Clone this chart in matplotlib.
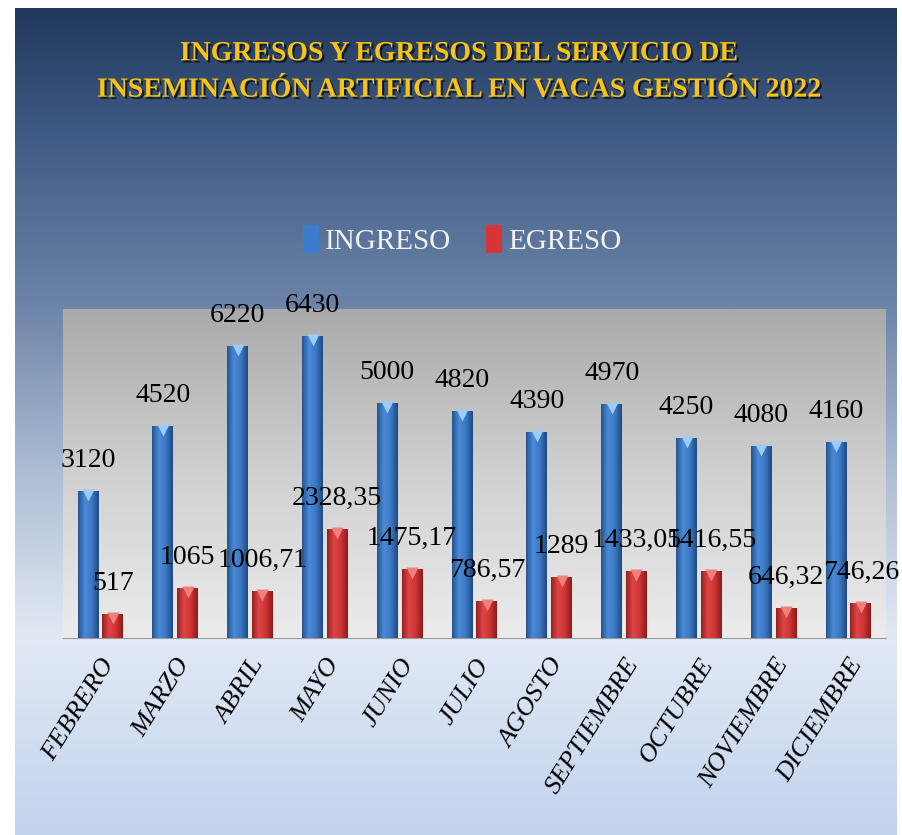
import numpy as np
import matplotlib.pyplot as plt
import matplotlib.patheffects as pe
from matplotlib.colors import LinearSegmentedColormap
from matplotlib.transforms import offset_copy

# Datos
meses = ['FEBRERO', 'MARZO', 'ABRIL', 'MAYO', 'JUNIO', 'JULIO', 'AGOSTO',
         'SEPTIEMBRE', 'OCTUBRE', 'NOVIEMBRE', 'DICIEMBRE']
ingreso = [3120, 4520, 6220, 6430, 5000, 4820, 4390, 4970, 4250, 4080, 4160]
egreso = [517, 1065, 1006.71, 2328.35, 1475.17, 786.57, 1289, 1433.05, 1416.55, 646.32, 746.26]

titulo = 'INGRESOS Y EGRESOS DEL SERVICIO DE\nINSEMINACIÓN ARTIFICIAL EN VACAS GESTIÓN 2022'

W, H = 903, 835
fig = plt.figure(figsize=(W / 100, H / 100), dpi=100, facecolor='white')
serif = ['Liberation Serif', 'DejaVu Serif']

# fondo degradado
bg = fig.add_axes([15 / W, 0, (897 - 15) / W, (H - 8) / H], zorder=0)
bg_cmap = LinearSegmentedColormap.from_list('bg', [
    (0.0, '#21385c'), (0.15, '#3f5a84'), (0.35, '#6a82a6'),
    (0.55, '#a9bad2'), (0.76, '#e2e9f5'), (1.0, '#c2d3ee')])
bg.imshow(np.linspace(0, 1, 256).reshape(-1, 1), cmap=bg_cmap, aspect='auto',
          extent=[0, 1, 0, 1])
bg.axis('off')

# area de trazado
ax = fig.add_axes([63 / W, (H - 638) / H, (886 - 63) / W, (638 - 309) / H], zorder=1)
ax.set_xlim(-0.5, len(meses) - 0.5)
ax.set_ylim(0, 7000)
plot_cmap = LinearSegmentedColormap.from_list('pl', ['#ececec', '#d0d0d0', '#aaaaaa'])
ax.imshow(np.linspace(0, 1, 256).reshape(-1, 1), cmap=plot_cmap, aspect='auto',
          origin='lower', extent=[-0.5, len(meses) - 0.5, 0, 7000], zorder=0)

x = np.arange(len(meses))
w = 0.28
b1 = ax.bar(x - 0.165, ingreso, w, color='#3d7cc9', label='INGRESO', zorder=2)
b2 = ax.bar(x + 0.165, egreso, w, color='#d63535', label='EGRESO', zorder=2)

# efecto cilindro
def degradar(barras, colores):
    cm = LinearSegmentedColormap.from_list('c', colores)
    for b in barras:
        x0, y0 = b.get_x(), b.get_y()
        im = ax.imshow(np.linspace(0, 1, 64).reshape(1, -1), cmap=cm, aspect='auto',
                       extent=[x0, x0 + b.get_width(), y0, y0 + b.get_height()], zorder=3)
        im.set_clip_path(b)

degradar(b1, ['#24548f', '#4a8ad8', '#3b78c4', '#1f4a80'])
degradar(b2, ['#962020', '#e04545', '#cf3434', '#8a1c1c'])

tri = offset_copy(ax.transData, fig=fig, x=0, y=-4, units='dots')
ax.plot(x - 0.165, ingreso, 'v', ms=9, color='#9cccf5', mec='none', transform=tri, zorder=4)
ax.plot(x + 0.165, egreso, 'v', ms=9, color='#f08080', mec='none', transform=tri, zorder=4)

ax.set_xlim(-0.5, len(meses) - 0.5)
ax.set_ylim(0, 7000)

def fmt(v):
    s = f'{v:.2f}'.rstrip('0').rstrip('.')
    return s.replace('.', ',')

for xi, v in zip(x - 0.165, ingreso):
    ax.annotate(fmt(v), (xi, v), xytext=(0, 13), textcoords='offset points',
                ha='center', va='bottom', fontsize=20, family=serif, zorder=5)
for xi, v in zip(x + 0.165, egreso):
    ax.annotate(fmt(v), (xi, v), xytext=(0, 13), textcoords='offset points',
                ha='center', va='bottom', fontsize=20, family=serif, zorder=5)

ax.set_xticks(x)
ax.set_xticklabels(meses, rotation=58, ha='right', va='top', rotation_mode='anchor',
                   fontsize=19, family=serif, style='italic')
ax.tick_params(axis='x', length=0, pad=12)
ax.set_yticks([])
for s in ['top', 'right', 'left']:
    ax.spines[s].set_visible(False)
ax.spines['bottom'].set_color('#9a9a9a')

# titulo
fig.text(458 / W, 1 - 72 / H, titulo, ha='center', va='center', fontsize=20,
         fontweight='bold', family=serif, color='#f7c412', linespacing=1.6,
         path_effects=[pe.withSimplePatchShadow(offset=(1.5, -1.5), shadow_rgbFace='black', alpha=0.7)])

# leyenda
leg = fig.legend(handles=[b1, b2], loc='center', bbox_to_anchor=(462 / W, 1 - 240 / H),
                 ncol=2, frameon=False, handlelength=0.55, handleheight=1.1,
                 handletextpad=0.2, columnspacing=1.2, prop={'family': serif, 'size': 21})
for t in leg.get_texts():
    t.set_color('#f2f2f2')

fig.savefig('out.png', dpi=100, facecolor='white')
